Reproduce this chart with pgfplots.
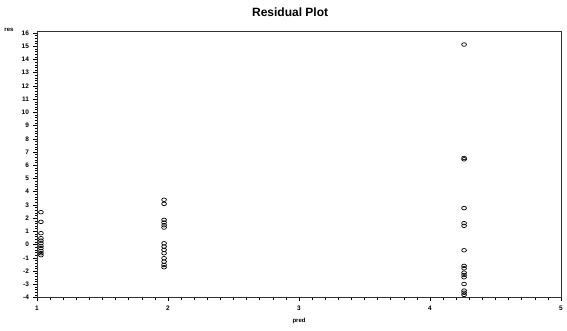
\documentclass[border=0pt]{standalone}
\usepackage{fontspec}
\setmainfont{Liberation Sans}
\usepackage{pgfplots}
\pgfplotsset{compat=1.18}
\begin{document}
\begin{tikzpicture}
\begin{axis}[
  at={(0,0)}, anchor=south west,
  scale only axis, width=524pt, height=265.8pt,
  xmin=1, xmax=5, ymin=-4, ymax=16.1,
  xtick={1,2,3,4,5}, ytick={-4,-3,...,16},
  minor x tick num=9, minor y tick num=4,
  tick align=outside, tick pos=left,
  major tick length=3.5pt, minor tick length=2pt,
  axis line style={line width=0.7pt, draw=black!80},
  every tick/.style={black, line width=0.5pt},
  /pgf/number format/assume math mode=true,
  tick label style={font=\fontsize{6.5}{7}\selectfont\bfseries},
  xticklabel style={yshift=-1pt},
  yticklabel style={xshift=-1pt},
  xlabel={pred}, xlabel style={font=\fontsize{6}{7}\selectfont\bfseries, at={(axis description cs:0.5,0)}, anchor=north, yshift=-17pt},
  ylabel={res}, ylabel style={font=\fontsize{6}{7}\selectfont\bfseries, rotate=-90, at={(axis description cs:0,1)}, anchor=east, xshift=-20pt, yshift=2pt},
  title={Residual Plot}, title style={font=\fontsize{12}{14}\selectfont\bfseries, at={(axis description cs:0.483,1)}, anchor=south, yshift=6pt},
]
\addplot[only marks, mark=o, mark size=2.4pt, mark options={yscale=0.75, line width=0.7pt, black}] coordinates {
 (1.03,2.45) (1.03,1.72) (1.03,0.86) (1.03,0.48) (1.03,0.3) (1.03,0.1) (1.03,-0.1) (1.03,-0.27) (1.03,-0.48) (1.03,-0.65) (1.03,-0.8)
 (1.97,3.39) (1.97,3.08) (1.97,1.87) (1.97,1.67) (1.97,1.47) (1.97,1.29) (1.97,0.1) (1.97,-0.15) (1.97,-0.4) (1.97,-0.65) (1.97,-1.03) (1.97,-1.29) (1.97,-1.54) (1.97,-1.71)
 (4.26,15.13) (4.26,6.55) (4.26,6.45) (4.26,2.76) (4.26,1.62) (4.26,1.42) (4.26,-0.43) (4.26,-1.61) (4.26,-1.79) (4.26,-2.12) (4.26,-2.3) (4.26,-2.47) (4.26,-2.98) (4.26,-3.48) (4.26,-3.64) (4.26,-3.8)
};
\end{axis}
\path[use as bounding box] (-37pt,-32.5pt) rectangle (530pt,297.5pt);
\end{tikzpicture}
\end{document}
